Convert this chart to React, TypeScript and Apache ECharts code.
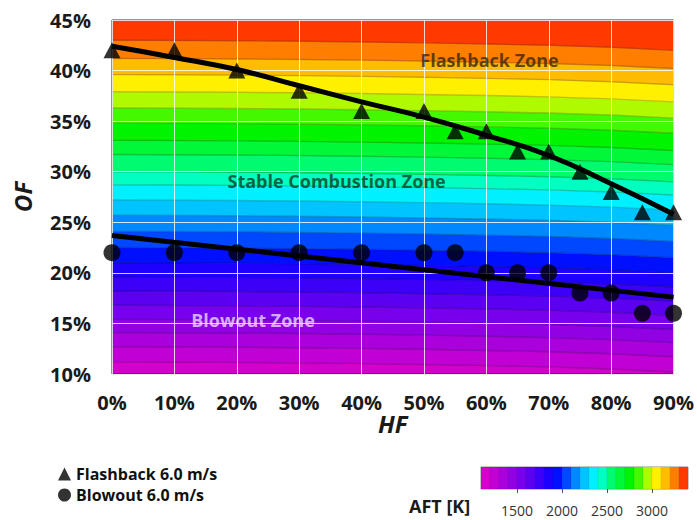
import React, { useEffect, useRef } from "react";
import * as echarts from "echarts";

// ---------- data ----------
const HF_TICKS = [0, 10, 20, 30, 40, 50, 60, 70, 80, 90];
const OF_TICKS = [10, 15, 20, 25, 30, 35, 40, 45];

const FLASH_HF = [0, 10, 20, 30, 40, 50, 55, 60, 65, 70, 75, 80, 85, 90];
const FLASH_OF = [42, 42, 40, 38, 36, 36, 34, 34, 32, 32, 30, 28, 26, 26];

const BLOW_HF = [0, 10, 20, 30, 40, 50, 55, 60, 65, 70, 75, 80, 85, 90];
const BLOW_OF = [22, 22, 22, 22, 22, 22, 22, 20, 20, 20, 18, 18, 16, 16];

// trend (fit) lines
const FLASH_FIT_HF = [0, 10, 20, 30, 40, 50, 60, 70, 80, 90];
const FLASH_FIT_OF = [42.4, 41.3, 40.1, 38.5, 36.9, 35.4, 33.6, 31.6, 28.8, 25.8];
const BLOW_FIT_HF = [0, 90];
const BLOW_FIT_OF = [23.7, 17.6];

// AFT contour map: contour levels [K] and their OF position at HF = 0
const CONTOUR_LEVELS = [1200, 1300, 1400, 1500, 1600, 1700, 1800, 1900, 2000, 2100, 2200,
  2300, 2400, 2500, 2600, 2700, 2800, 2900, 3000, 3100, 3200, 3300];
const CONTOUR_OF_HF0 = [11.2, 12.7, 14.1, 15.4, 16.8, 18.2, 19.6, 21.0, 22.5, 24.1, 25.7,
  27.2, 28.7, 30.0, 31.7, 33.1, 34.8, 36.3, 37.9, 39.6, 41.2, 43.0];
// downward shift (in OF %) of every contour as HF grows
const CONTOUR_SHIFT_HF = [0, 10, 20, 30, 40, 50, 60, 70, 80, 90];
const CONTOUR_SHIFT_OF = [0, 0.02, 0.05, 0.1, 0.17, 0.26, 0.37, 0.5, 0.7, 1.0];

// colour scale (AFT bands from 1100 to 3400 K)
const AFT_MIN = 1100;
const AFT_MAX = 3400;
const AFT_STEP = 100;
const AFT_TICKS = [1500, 2000, 2500, 3000];
const BAND_COLORS = [
  "#d400cc", "#c000d4", "#aa00dc", "#9200e4", "#7800ec", "#5c00f2", "#3c00f8", "#1e00ff",
  "#0010ff", "#0048ff", "#0088ff", "#00c4ff", "#00f0ff", "#00ffc0", "#00fa70", "#00f838",
  "#00f400", "#44f800", "#b0fa00", "#fff000", "#ffbc00", "#ff7e00", "#ff3a00",
];

const ZONES = [
  { name: "Flashback Zone", hf: 60.5, of: 41.0, color: "#3a2608" },
  { name: "Stable Combustion Zone", hf: 36, of: 29.1, color: "#0b3a26" },
  { name: "Blowout Zone", hf: 22.6, of: 15.3, color: "#eadcff" },
];

const LEGEND_FLASH = "Flashback 6.0 m/s";
const LEGEND_BLOW = "Blowout 6.0 m/s";

const FONT = "'Open Sans', 'Liberation Sans', sans-serif";

export default function App() {
  const ref = useRef<HTMLDivElement>(null);

  useEffect(() => {
    if (!ref.current) return;
    const chart = echarts.init(ref.current, undefined, { renderer: "svg" });

    const ofMin = OF_TICKS[0];
    const ofMax = OF_TICKS[OF_TICKS.length - 1];
    const clampOF = (v: number) => Math.max(ofMin, Math.min(ofMax, v));
    const nC = CONTOUR_LEVELS.length;

    const bgRender = (params: any, api: any) => {
      const k = params.dataIndex;
      const pts: number[][] = [];
      const upper: number[][] = [];
      for (let i = 0; i < CONTOUR_SHIFT_HF.length; i++) {
        const of = k === nC ? ofMax : clampOF(CONTOUR_OF_HF0[k] - CONTOUR_SHIFT_OF[i]);
        const p = api.coord([CONTOUR_SHIFT_HF[i], of]);
        pts.push(p);
        upper.push(p);
      }
      for (let i = CONTOUR_SHIFT_HF.length - 1; i >= 0; i--) {
        const of = k === 0 ? ofMin : clampOF(CONTOUR_OF_HF0[k - 1] - CONTOUR_SHIFT_OF[i]);
        pts.push(api.coord([CONTOUR_SHIFT_HF[i], of]));
      }
      const children: any[] = [
        {
          type: "polygon",
          shape: { points: pts },
          style: { fill: BAND_COLORS[k], stroke: BAND_COLORS[k], lineWidth: 0.6 },
        },
      ];
      if (k < nC) {
        children.push({
          type: "polyline",
          shape: { points: upper },
          style: { fill: "none", stroke: "rgba(0,0,0,0.2)", lineWidth: 1.4 },
          z2: 5,
        });
      }
      return { type: "group", children };
    };

    const barStarts = BAND_COLORS.map((_, i) => AFT_MIN + i * AFT_STEP);
    const barRender = (params: any, api: any) => {
      const v = barStarts[params.dataIndex];
      const p0 = api.coord([v, 1]);
      const p1 = api.coord([v + AFT_STEP, 0]);
      return {
        type: "rect",
        shape: { x: p0[0], y: p0[1], width: p1[0] - p0[0], height: p1[1] - p0[1] },
        style: { fill: BAND_COLORS[params.dataIndex], stroke: "rgba(0,0,0,0.08)", lineWidth: 0.8 },
      };
    };

    const legendBase = {
      orient: "vertical",
      left: 53,
      itemWidth: 13,
      itemHeight: 13,
      textStyle: { fontSize: 16, fontWeight: "bold", color: "#111", fontFamily: FONT },
    };

    const option: any = {
      animation: false,
      backgroundColor: "#ffffff",
      textStyle: { fontFamily: FONT },
      grid: [
        { left: 112, top: 20, width: 562, height: 354, show: true, borderColor: "#2a2a2a", borderWidth: 1, backgroundColor: "transparent" },
        { left: 481, top: 467, width: 207, height: 22, show: true, borderColor: "#999", borderWidth: 1, backgroundColor: "transparent" },
      ],
      xAxis: [
        {
          gridIndex: 0,
          type: "value",
          min: HF_TICKS[0],
          max: HF_TICKS[HF_TICKS.length - 1],
          interval: 10,
          name: "HF",
          nameLocation: "middle",
          nameGap: 37,
          nameMoveOverlap: false,
          nameTextStyle: { fontSize: 24, fontWeight: "bold", fontStyle: "italic", color: "#1a1a1a", fontFamily: FONT },
          axisLine: { show: false },
          axisTick: { show: false },
          axisLabel: { formatter: "{value}%", fontSize: 20, fontWeight: "bold", color: "#1a1a1a", margin: 18, fontFamily: FONT },
          splitLine: { show: true, lineStyle: { color: "rgba(255,255,255,0.8)", width: 1 } },
        },
        {
          gridIndex: 1,
          type: "value",
          min: AFT_MIN,
          max: AFT_MAX,
          axisLine: { show: false },
          axisTick: { show: true, customValues: AFT_TICKS, length: 4, lineStyle: { color: "#555" } },
          axisLabel: {
            show: true,
            customValues: AFT_TICKS,
            formatter: (v: number) => String(v),
            fontSize: 14,
            color: "#333",
            margin: 14,
            fontFamily: FONT,
          },
          splitLine: { show: false },
        },
      ],
      yAxis: [
        {
          gridIndex: 0,
          type: "value",
          min: ofMin,
          max: ofMax,
          interval: 5,
          name: "OF",
          nameLocation: "middle",
          nameGap: 78,
          nameTextStyle: { fontSize: 24, fontWeight: "bold", fontStyle: "italic", color: "#1a1a1a", fontFamily: FONT },
          axisLine: { show: false },
          axisTick: { show: false },
          axisLabel: { formatter: "{value}%", fontSize: 20, fontWeight: "bold", color: "#1a1a1a", margin: 21, fontFamily: FONT },
          splitLine: { show: true, lineStyle: { color: "rgba(255,255,255,0.8)", width: 1 } },
        },
        { gridIndex: 1, type: "value", min: 0, max: 1, show: false },
      ],
      legend: [
        { ...legendBase, top: 461, data: [{ name: LEGEND_FLASH, icon: "triangle" }] },
        { ...legendBase, top: 482, data: [{ name: LEGEND_BLOW, icon: "circle" }] },
      ],
      graphic: [
        {
          type: "text",
          left: 409,
          top: 497,
          style: { text: "AFT [K]", fontSize: 18, fontWeight: "bold", fill: "#1a1a1a", fontFamily: FONT },
        },
      ],
      series: [
        {
          type: "custom",
          name: "AFT",
          xAxisIndex: 0,
          yAxisIndex: 0,
          z: -10,
          silent: true,
          clip: true,
          renderItem: bgRender,
          data: BAND_COLORS.map((_, k) => [0, k]),
        },
        {
          type: "custom",
          name: "AFT bar",
          xAxisIndex: 1,
          yAxisIndex: 1,
          silent: true,
          renderItem: barRender,
          data: barStarts.map((v) => [v, 0]),
        },
        {
          type: "line",
          name: "Flashback fit",
          smooth: true,
          symbol: "none",
          z: 3,
          lineStyle: { color: "#000", width: 5 },
          data: FLASH_FIT_HF.map((h, i) => [h, FLASH_FIT_OF[i]]),
        },
        {
          type: "line",
          name: "Blowout fit",
          symbol: "none",
          z: 3,
          lineStyle: { color: "#000", width: 5 },
          data: BLOW_FIT_HF.map((h, i) => [h, BLOW_FIT_OF[i]]),
        },
        {
          type: "scatter",
          name: LEGEND_FLASH,
          symbol: "triangle",
          symbolSize: [17, 16],
          z: 4,
          itemStyle: { color: "#000" },
          data: FLASH_HF.map((h, i) => [h, FLASH_OF[i]]),
        },
        {
          type: "scatter",
          name: LEGEND_BLOW,
          symbol: "circle",
          symbolSize: 17,
          z: 4,
          itemStyle: { color: "#000" },
          data: BLOW_HF.map((h, i) => [h, BLOW_OF[i]]),
        },
        {
          type: "scatter",
          name: "zones",
          symbolSize: 0,
          silent: true,
          z: 5,
          data: ZONES.map((zn) => ({
            name: zn.name,
            value: [zn.hf, zn.of],
            label: { color: zn.color },
          })),
          label: {
            show: true,
            position: "inside",
            formatter: "{b}",
            fontSize: 18,
            fontWeight: "bold",
            fontFamily: FONT,
          },
        },
      ],
    };

    chart.setOption(option);
    return () => chart.dispose();
  }, []);

  return <div ref={ref} style={{ position: "absolute", left: 0, top: 0, width: 697, height: 520 }} />;
}
